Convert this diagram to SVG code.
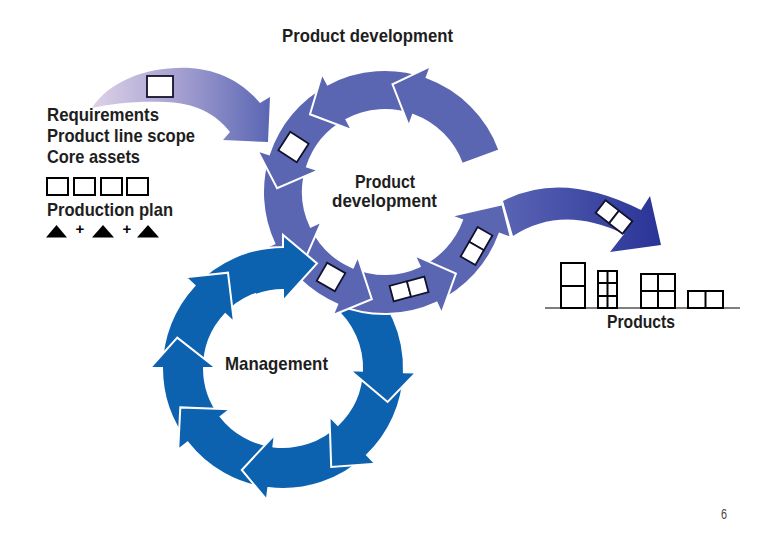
<svg xmlns="http://www.w3.org/2000/svg" width="780" height="540" viewBox="0 0 780 540">
<defs>
<linearGradient id="gIn" gradientUnits="userSpaceOnUse" x1="92" y1="0" x2="268" y2="0">
<stop offset="0" stop-color="#ddd2e7"/>
<stop offset="0.5" stop-color="#a49fd0"/>
<stop offset="1" stop-color="#5c67b4"/>
</linearGradient>
<linearGradient id="gOut" gradientUnits="userSpaceOnUse" x1="500" y1="0" x2="660" y2="0">
<stop offset="0" stop-color="#5a65b4"/>
<stop offset="1" stop-color="#2a3497"/>
</linearGradient>
<style>
.pr{fill:#5b66b3;stroke:#fff;stroke-width:2;stroke-linejoin:miter}
.mg{fill:#0d62b0;stroke:#fff;stroke-width:2;stroke-linejoin:miter}
.box{fill:#fff;stroke:#12122c;stroke-width:1.8}
.pbox{fill:#fff;stroke:#000;stroke-width:2}
.lbl{font-family:'Liberation Sans',Arial,sans-serif;font-weight:bold;font-size:19px;fill:#1e1e1e}
.plus{font-family:'Liberation Sans',Arial,sans-serif;font-weight:bold;font-size:15px;fill:#000}
</style>
</defs>
<rect width="780" height="540" fill="#fff"/>

<g id="incoming-arrow">
<path d="M 92,108 C 110,80 150,66 190,68 C 222,70 245,85 260,103 L 270,97 L 268,142 L 223,140 L 230,132 C 215,113 195,103 165,102 C 135,101 110,104 92,108 Z" fill="url(#gIn)"/>
<rect class="box" x="147" y="76" width="26" height="21"/>
</g>

<g id="management-ring">
<path class="mg" d="M 194.5,285.5 A 121 121 0 0 1 283,247 L 283,235 L 317,263.4 L 283,301 L 283,289 A 79 79 0 0 0 225.2,314.1 Z"/>
<path class="mg" d="M 162,368 A 121 121 0 0 1 194.5,285.5 L 185.7,277.3 L 228,272.7 L 234,322.3 L 225.2,314.1 A 79 79 0 0 0 204,368 Z"/>
<path class="mg" d="M 187.7,442.5 A 121 121 0 0 1 162,368 L 150,368 L 177.3,337.7 L 216,368 L 204,368 A 79 79 0 0 0 220.7,416.6 Z"/>
<path class="mg" d="M 268.3,488.1 A 121 121 0 0 1 187.7,442.5 L 178.2,449.9 L 180.3,407.4 L 230.2,409.3 L 220.7,416.6 A 79 79 0 0 0 273.4,446.4 Z"/>
<path class="mg" d="M 367.1,455 A 121 121 0 0 1 268.3,488.1 L 266.8,500 L 241.8,470 L 274.8,434.5 L 273.4,446.4 A 79 79 0 0 0 337.9,424.8 Z"/>
<path class="mg" d="M 403.9,372.2 A 121 121 0 0 1 367.1,455 L 375.4,463.7 L 331.2,466.9 L 329.5,416.2 L 337.9,424.8 A 79 79 0 0 0 362,370.8 Z"/>
<path class="mg" d="M 360.8,275.3 A 121 121 0 0 1 403.9,372.2 L 415.9,372.6 L 387.6,402 L 350,370.3 L 362,370.8 A 79 79 0 0 0 333.8,307.5 Z"/>
</g>

<g id="exit-arrow">
<path d="M 503,201 Q 562,170 641,210 L 650,196 L 661,245 L 610,252 L 624,234 Q 562,204 513,236 Z" fill="url(#gOut)"/>
<g transform="translate(614,217) rotate(38)">
<rect class="box" x="-17" y="-8" width="17" height="16"/>
<rect class="box" x="0" y="-8" width="17" height="16"/>
</g>
</g>

<g id="product-ring">
<path class="pr" d="M 436.6,302.6 A 122 122 0 0 0 499.6,233.7 L 510.9,237.8 L 502.4,204.3 L 450.8,215.9 L 462.1,220 A 82 82 0 0 1 419.7,266.3 Z"/>
<path class="pr" d="M 337.3,304.3 A 122 122 0 0 0 436.6,302.6 L 441.6,313.4 L 455.9,273.5 L 414.6,255.4 L 419.7,266.3 A 82 82 0 0 1 353,267.5 Z"/>
<path class="pr" d="M 274.4,243.6 A 122 122 0 0 0 337.3,304.3 L 332.6,315.3 L 371.8,299.2 L 357.7,256.4 L 353,267.5 A 82 82 0 0 1 310.7,226.7 Z"/>
<path class="pr" d="M 269,154.3 A 122 122 0 0 0 274.4,243.6 L 263.6,248.6 L 303.5,262.9 L 321.6,221.6 L 310.7,226.7 A 82 82 0 0 1 307,166.7 Z"/>
<path class="pr" d="M 327.7,84.3 A 122 122 0 0 0 269,154.3 L 257.6,150.6 L 277.1,188.2 L 318.4,170.4 L 307,166.7 A 82 82 0 0 1 346.5,119.6 Z"/>
<path class="pr" d="M 426.7,77.4 A 122 122 0 0 0 327.7,84.3 L 322.1,73.7 L 310,114.3 L 352.1,130.2 L 346.5,119.6 A 82 82 0 0 1 413,114.9 Z"/>
<path class="pr" d="M 499.6,150.3 A 122 122 0 0 0 426.7,77.4 L 430.8,66.1 L 392.5,84.3 L 408.9,126.2 L 413,114.9 A 82 82 0 0 1 462.1,164 Z"/>
</g>

<g id="management-head-over">
<path d="M 241.6,254.3 A 121 121 0 0 1 283,247 L 283,235 L 317,263.4 L 283,301 L 283,289 A 79 79 0 0 0 256,293.8 Z" fill="#0d62b0"/>
<path d="M 241.6,254.3 A 121 121 0 0 1 283,247 L 283,235 L 317,263.4 L 283,301 L 283,289" fill="none" stroke="#fff" stroke-width="2"/>
</g>

<g id="ring-boxes">
<rect class="box" x="-11" y="-11" width="22" height="22" transform="translate(293.5,147) rotate(33)"/>
<rect class="box" x="-10.5" y="-10.5" width="21" height="21" transform="translate(331,277) rotate(30)"/>
<g transform="translate(409,289) rotate(-15)">
<rect class="box" x="-18" y="-8" width="18" height="16"/>
<rect class="box" x="0" y="-8" width="18" height="16"/>
</g>
<g transform="translate(476.5,246) rotate(30)">
<rect class="box" x="-8.5" y="-17" width="17" height="17"/>
<rect class="box" x="-8.5" y="0" width="17" height="17"/>
</g>
</g>

<g id="inputs">
<text class="lbl" x="47" y="121" textLength="112" lengthAdjust="spacingAndGlyphs">Requirements</text>
<text class="lbl" x="47" y="142" textLength="148" lengthAdjust="spacingAndGlyphs">Product line scope</text>
<text class="lbl" x="47" y="163" textLength="93" lengthAdjust="spacingAndGlyphs">Core assets</text>
<rect class="pbox" x="47" y="178" width="21" height="17" stroke-width="1.5"/>
<rect class="pbox" x="74" y="178" width="21" height="17" stroke-width="1.5"/>
<rect class="pbox" x="101" y="178" width="21" height="17" stroke-width="1.5"/>
<rect class="pbox" x="127" y="178" width="21" height="17" stroke-width="1.5"/>
<text class="lbl" x="47" y="216" textLength="126" lengthAdjust="spacingAndGlyphs">Production plan</text>
<polygon points="46,237.5 67,237.5 56.5,225" fill="#000"/>
<polygon points="92,237.5 114,237.5 103,225" fill="#000"/>
<polygon points="137,237.5 159,237.5 148,225" fill="#000"/>
<text class="plus" x="80" y="234" text-anchor="middle">+</text>
<text class="plus" x="127" y="234" text-anchor="middle">+</text>
</g>

<g id="titles">
<text class="lbl" x="282" y="42" textLength="171" lengthAdjust="spacingAndGlyphs">Product development</text>
<text class="lbl" x="355" y="188" textLength="60" lengthAdjust="spacingAndGlyphs">Product</text>
<text class="lbl" x="332" y="207" textLength="105" lengthAdjust="spacingAndGlyphs">development</text>
<text class="lbl" x="225" y="370" textLength="103" lengthAdjust="spacingAndGlyphs">Management</text>
</g>

<g id="products">
<line x1="545" y1="308" x2="740" y2="308" stroke="#000" stroke-width="1.2"/>
<rect class="pbox" x="561" y="263" width="24" height="45"/>
<line x1="561" y1="286" x2="585" y2="286" stroke="#000" stroke-width="2"/>
<rect class="pbox" x="598" y="271" width="19" height="37"/>
<line x1="607.5" y1="271" x2="607.5" y2="308" stroke="#000" stroke-width="2"/>
<line x1="598" y1="283" x2="617" y2="283" stroke="#000" stroke-width="2"/>
<line x1="598" y1="296" x2="617" y2="296" stroke="#000" stroke-width="2"/>
<rect class="pbox" x="641" y="274" width="34" height="34"/>
<line x1="658" y1="274" x2="658" y2="308" stroke="#000" stroke-width="2"/>
<line x1="641" y1="291" x2="675" y2="291" stroke="#000" stroke-width="2"/>
<rect class="pbox" x="688" y="291" width="35" height="17"/>
<line x1="705.5" y1="291" x2="705.5" y2="308" stroke="#000" stroke-width="2"/>
<text class="lbl" x="607" y="328" textLength="68" lengthAdjust="spacingAndGlyphs">Products</text>
</g>

<text x="721" y="519" font-family="'Liberation Sans',Arial,sans-serif" font-size="14" fill="#444" textLength="6" lengthAdjust="spacingAndGlyphs">6</text>
</svg>
